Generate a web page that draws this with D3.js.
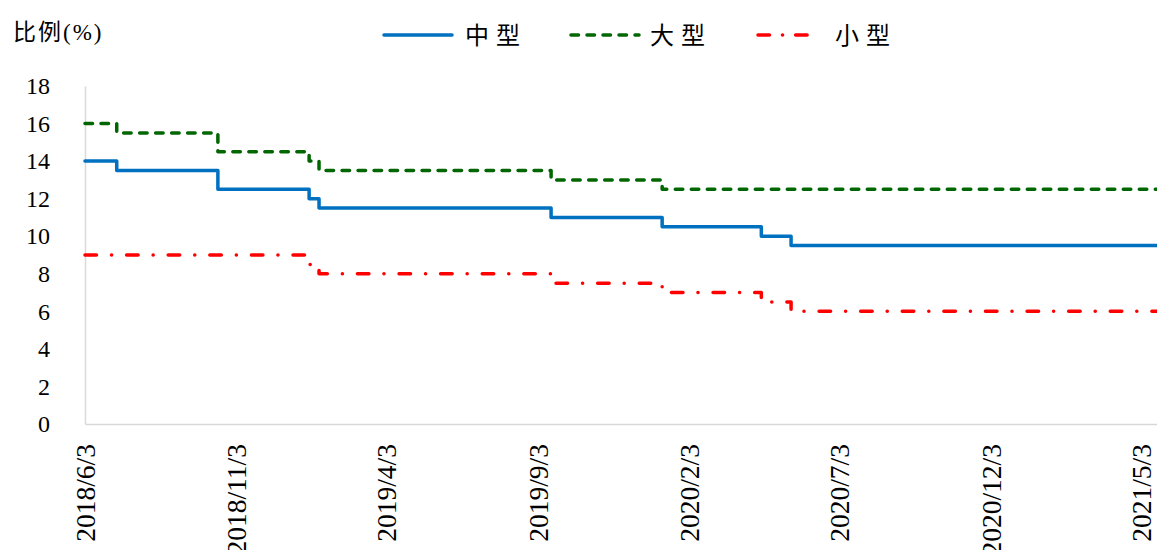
<!DOCTYPE html>
<html>
<head>
<meta charset="utf-8">
<script src="https://cdn.jsdelivr.net/npm/d3@7"></script>
<style>
  html, body { margin: 0; padding: 0; background: #fff; }
  svg { display: block; }
  .axis .domain { stroke: #d9d9d9; stroke-width: 1.5; }
</style>
</head>
<body>
<svg id="chart" width="1157" height="550"></svg>
<script>
// Dates where the reserve requirement ratio changes (last entry = end of series)
const changeDates = ["2018-06-03", "2018-07-05", "2018-10-15", "2019-01-15", "2019-01-25",
                     "2019-09-16", "2020-01-06", "2020-04-15", "2020-05-15", "2021-05-19"];
// Ratio (%) in effect from each date onward
const mediumBanks = [14, 13.5, 12.5, 12, 11.5, 11, 10.5, 10, 9.5, 9.5];
const largeBanks  = [16, 15.5, 14.5, 14, 13.5, 13, 12.5, 12.5, 12.5, 12.5];
const smallBanks  = [9, 9, 9, 8.5, 8, 7.5, 7, 6.5, 6, 6];

const seriesNames = ["中型", "大型", "小型"];
const xTickLabels = ["2018/6/3", "2018/11/3", "2019/4/3", "2019/9/3",
                     "2020/2/3", "2020/7/3", "2020/12/3", "2021/5/3"];
const yTicks = [0, 2, 4, 6, 8, 10, 12, 14, 16, 18];

const serif = "'Liberation Serif', 'DejaVu Serif', serif";

const parseISO = d3.timeParse("%Y-%m-%d");
const parseSlash = d3.timeParse("%Y/%m/%d");
const dates = changeDates.map(parseISO);
const tickDates = xTickLabels.map(parseSlash);

const svg = d3.select("#chart");
const plotLeft = 85, plotRight = 1157, plotTop = 86, plotBottom = 424;

const x = d3.scaleTime().domain([dates[0], dates[dates.length - 1]]).range([plotLeft, plotRight]);
const y = d3.scaleLinear().domain([0, 18]).range([plotBottom, plotTop]);

// Axes
const xAxis = d3.axisBottom(x)
  .tickValues(tickDates)
  .tickSize(0)
  .tickFormat(d => xTickLabels[tickDates.findIndex(t => +t === +d)]);
const gx = svg.append("g").attr("class", "axis").attr("transform", `translate(0,${plotBottom})`).call(xAxis);
gx.selectAll(".tick text")
  .style("font-family", serif)
  .style("font-size", "27.5px")
  .attr("fill", "#000")
  .attr("text-anchor", "end")
  .attr("transform", "rotate(-90)")
  .attr("x", -20)
  .attr("y", 0)
  .attr("dy", "0.33em");

const yAxis = d3.axisLeft(y).tickValues(yTicks).tickSize(0).tickPadding(35);
const gy = svg.append("g").attr("class", "axis").attr("transform", `translate(${plotLeft},0)`).call(yAxis);
gy.selectAll(".tick text")
  .style("font-family", serif)
  .style("font-size", "24px")
  .attr("fill", "#000");

// Series lines
const styles = [
  { values: mediumBanks, color: "#0070c0", dash: null },
  { values: largeBanks,  color: "#006600", dash: "7.5,8.5" },
  { values: smallBanks,  color: "#ff0000", dash: "11.5,15,0.1,15" }
];

const line = d3.line()
  .x(d => x(d[0]))
  .y(d => y(d[1]))
  .curve(d3.curveStepAfter);

styles.forEach(s => {
  svg.append("path")
    .datum(dates.map((d, i) => [d, s.values[i]]))
    .attr("fill", "none")
    .attr("stroke", s.color)
    .attr("stroke-width", 3.5)
    .attr("stroke-linecap", "round")
    .attr("stroke-linejoin", "round")
    .attr("stroke-dasharray", s.dash)
    .attr("d", line);
});

// Title
svg.append("text")
  .attr("x", 13).attr("y", 40)
  .style("font-family", "'Liberation Serif', 'Noto Sans CJK SC', serif")
  .style("font-size", "23px")
  .attr("letter-spacing", 2)
  .attr("fill", "#000")
  .text("比例(%)");

// Legend
const legendItems = [
  { x1: 384, x2: 452, tx: 465 },
  { x1: 571, x2: 639, tx: 650 },
  { x1: 758, x2: 812, tx: 835 }
];
legendItems.forEach((it, i) => {
  svg.append("line")
    .attr("x1", it.x1).attr("x2", it.x2)
    .attr("y1", 35).attr("y2", 35)
    .attr("stroke", styles[i].color)
    .attr("stroke-width", 3.5)
    .attr("stroke-linecap", "round")
    .attr("stroke-dasharray", i === 2 ? "11.5,13,0.1,13" : styles[i].dash);
  svg.append("text")
    .attr("x", it.tx).attr("y", 44)
    .style("font-family", "'Noto Sans CJK SC', sans-serif")
    .style("font-size", "24px")
    .attr("letter-spacing", 7)
    .attr("fill", "#000")
    .text(seriesNames[i]);
});
</script>
</body>
</html>
